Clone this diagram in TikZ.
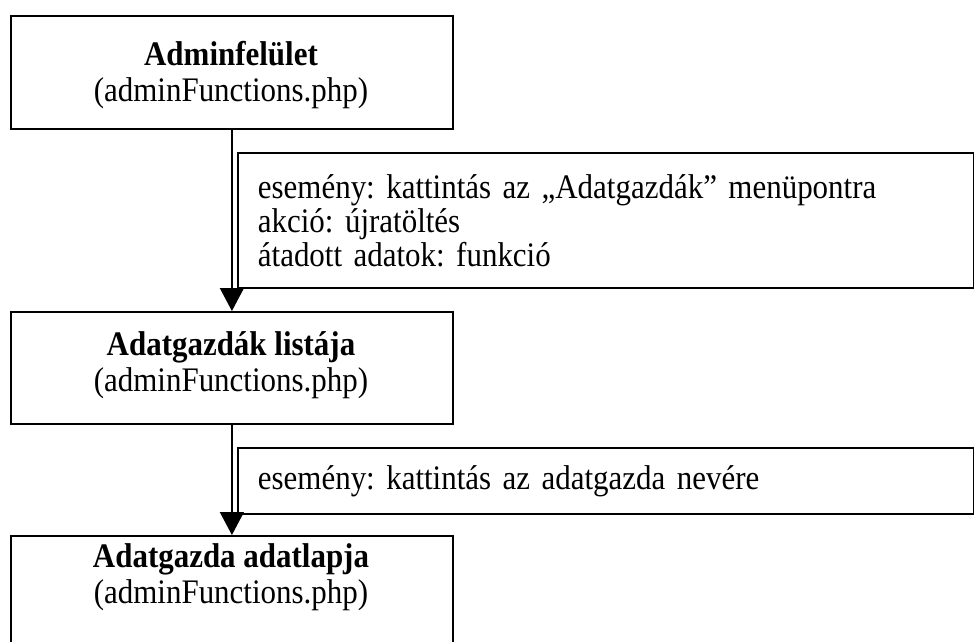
\documentclass[tikz,border=0pt]{standalone}
\usepackage{fontspec}
\setmainfont{Liberation Serif}[FakeStretch=0.9]
\usetikzlibrary{arrows.meta}
\begin{document}
\frenchspacing
\begin{tikzpicture}[x=1pt,y=-1pt,
  pagebox/.style={draw,line width=1.8pt,minimum width=442pt,inner sep=0pt,anchor=north west},
  eventbox/.style={draw,line width=1.8pt,minimum width=736pt,anchor=north west,
    text width=696pt,inner xsep=20pt,inner ysep=0pt,align=left,
    font=\fontsize{34.4}{34}\selectfont},
  title/.style={align=center,inner sep=0pt,font=\fontsize{34.4}{35.5}\selectfont},
  flow/.style={line width=1.5pt,-{Triangle[width=24pt,length=23pt]}}]
\clip (0,0) rectangle (974,642);
\fill[white] (0,0) rectangle (974,642);
% page boxes
\node[pagebox,minimum height=113pt] (b1) at (10,15) {};
\node[pagebox,minimum height=112pt] (b2) at (10,311) {};
\node[pagebox,minimum height=130pt] (b3) at (10,535) {};
\node[title] (t1) at (231,75) {\textbf{Adminfelület}\\(adminFunctions.php)};
\node[title] (t2) at (231,365) {\textbf{Adatgazdák listája}\\(adminFunctions.php)};
\node[title] (t3) at (231,577) {\textbf{Adatgazda adatlapja}\\(adminFunctions.php)};
% event descriptions
\node[eventbox,minimum height=135pt] (e1) at (237,152)
  {esemény: kattintás az „Adatgazdák” menüpontra\\akció: újratöltés\\átadott adatok: funkció};
\node[eventbox,minimum height=66pt] (e2) at (237,447)
  {esemény: kattintás az adatgazda nevére};
% transitions
\draw[flow] (b1.south) -- (b2.north);
\draw[flow] (b2.south) -- (b3.north);
\end{tikzpicture}
\end{document}
